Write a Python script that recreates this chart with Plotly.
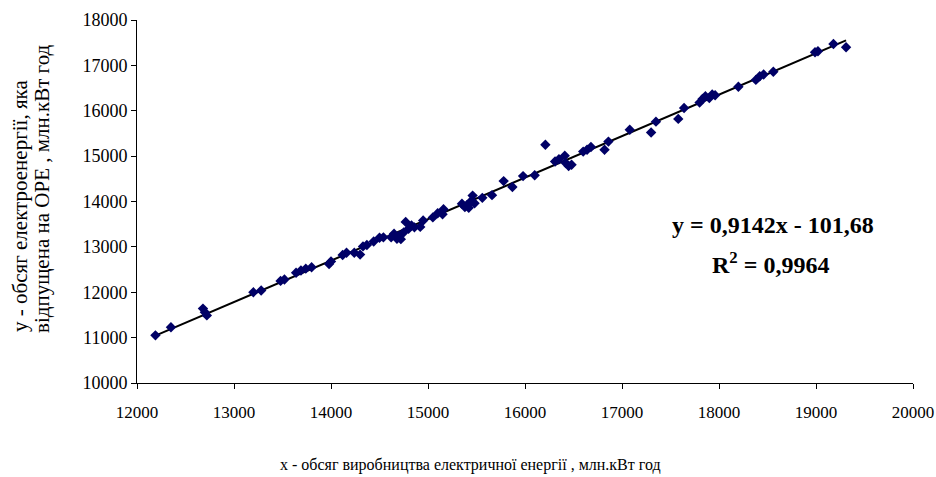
import plotly.graph_objects as go

# Data
x_prod = [12190, 12350, 12680, 12700, 12720, 13200, 13280, 13480, 13520, 13640,
          13690, 13740, 13800, 13980, 14000, 14120, 14160, 14240, 14300, 14330,
          14370, 14440, 14500, 14540, 14620, 14650, 14680, 14700, 14720, 14750,
          14770, 14800, 14830, 14860, 14920, 14950, 15050, 15100, 15150, 15160,
          15350, 15380, 15400, 15420, 15440, 15460, 15480, 15560, 15660, 15780,
          15870, 15980, 16100, 16210, 16310, 16350, 16410, 16420, 16450, 16480,
          16600, 16640, 16680, 16820, 16860, 17080, 17300, 17350, 17580, 17640,
          17800, 17830, 17860, 17900, 17930, 17960, 18200, 18380, 18420, 18460,
          18560, 18990, 19020, 19180, 19310]
y_released = [11050, 11230, 11640, 11560, 11490, 12000, 12040, 12250, 12280, 12430,
              12480, 12520, 12550, 12620, 12680, 12820, 12870, 12870, 12830, 13010,
              13040, 13120, 13200, 13210, 13210, 13290, 13180, 13240, 13170, 13320,
              13550, 13400, 13470, 13430, 13440, 13580, 13650, 13740, 13720, 13830,
              13950, 13880, 13920, 13860, 14000, 14130, 13960, 14080, 14140, 14450,
              14320, 14560, 14580, 15250, 14880, 14930, 15010, 14850, 14780, 14810,
              15100, 15140, 15200, 15140, 15320, 15580, 15520, 15760, 15820, 16060,
              16180, 16260, 16320, 16280, 16360, 16340, 16530, 16680, 16760, 16800,
              16860, 17290, 17310, 17470, 17400]
slope = 0.9142
intercept = -101.68

x_tick_vals = [12000, 13000, 14000, 15000, 16000, 17000, 18000, 19000, 20000]
y_tick_vals = [10000, 11000, 12000, 13000, 14000, 15000, 16000, 17000, 18000]

xmin, xmax = min(x_prod), max(x_prod)
trend_x = [xmin, xmax]
trend_y = [slope * v + intercept for v in trend_x]

fig = go.Figure()
fig.add_trace(go.Scatter(
    x=trend_x, y=trend_y, mode="lines",
    line=dict(color="black", width=2), showlegend=False, hoverinfo="skip"))
fig.add_trace(go.Scatter(
    x=x_prod, y=y_released, mode="markers",
    marker=dict(symbol="diamond", size=8, color="#000066",
                line=dict(width=0)),
    showlegend=False))

serif = "Liberation Serif"

def px_x(p):
    return (p - 137) / 776

def px_y(p):
    return (383 - p) / 363

fig.update_layout(
    width=936, height=477,
    margin=dict(l=137, r=23, t=20, b=94),
    paper_bgcolor="white", plot_bgcolor="white",
    font=dict(family=serif, color="black", size=16),
    xaxis=dict(range=[12000, 20000], tickvals=x_tick_vals,
               ticktext=[str(v) for v in x_tick_vals], automargin=False,
               showgrid=False, zeroline=False, showline=True,
               linecolor="black", linewidth=1, ticks="outside",
               ticklen=5, tickcolor="black", ticklabelstandoff=9,
               tickfont=dict(size=17, family=serif, color="black")),
    yaxis=dict(range=[10000, 18000], tickvals=y_tick_vals,
               ticktext=[str(v) for v in y_tick_vals], automargin=False,
               showgrid=False, zeroline=False, showline=True,
               linecolor="black", linewidth=1, ticks="outside",
               ticklen=5, tickcolor="black",
               tickfont=dict(size=18, family=serif, color="black")),
    annotations=[
        dict(text="<b>y = 0,9142x - 101,68</b>", xref="paper", yref="paper",
             x=px_x(773), y=px_y(225), xanchor="center", yanchor="middle",
             showarrow=False, font=dict(size=24, family=serif)),
        dict(text="<b>R<sup>2</sup> = 0,9964</b>", xref="paper", yref="paper",
             x=px_x(770), y=px_y(263), xanchor="center", yanchor="middle",
             showarrow=False, font=dict(size=24, family=serif)),
        dict(text="у - обсяг електроенергії, яка",
             xref="paper", yref="paper", x=px_x(20), y=px_y(206),
             xanchor="center", yanchor="middle", textangle=-90,
             showarrow=False, font=dict(size=21, family=serif)),
        dict(text="відпущена на ОРЕ , млн.кВт год",
             xref="paper", yref="paper", x=px_x(42), y=px_y(189),
             xanchor="center", yanchor="middle", textangle=-90,
             showarrow=False, font=dict(size=21, family=serif)),
        dict(text="х - обсяг виробництва електричної енергії , млн.кВт год",
             xref="paper", yref="paper", x=px_x(470), y=px_y(465),
             xanchor="center", yanchor="middle",
             showarrow=False, font=dict(size=16, family=serif)),
    ],
)

fig.write_html("out.html", config={"displayModeBar": False},
               post_script="document.body.style.margin='0';")
